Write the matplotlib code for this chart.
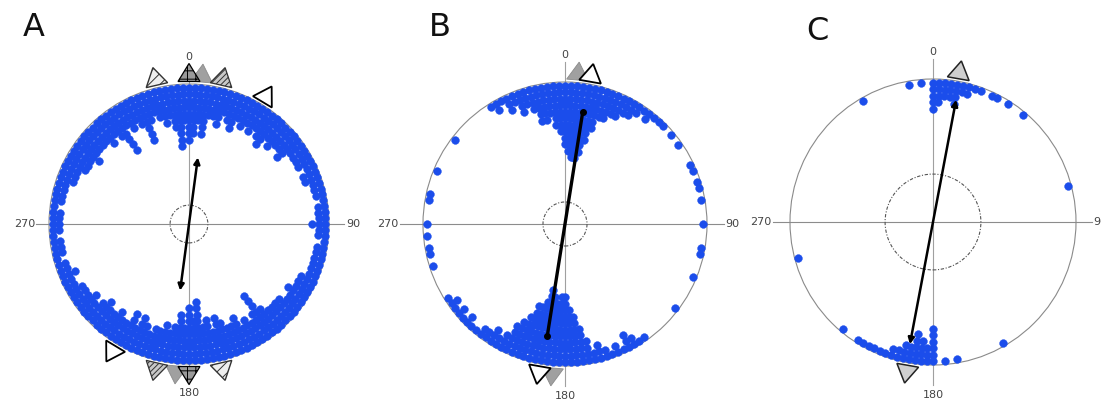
#!/usr/bin/env python3
# circular dot plots (axial data), three panels A/B/C
import numpy as np
import matplotlib
matplotlib.use('Agg')
import matplotlib.pyplot as plt
from matplotlib.patches import Polygon, Circle

plt.rcParams['hatch.linewidth'] = 0.7

BIN = 2.5  # degrees per bin, bins centred on 0, 2.5, 5 ... clockwise from north

# number of stacked dots in each bin, one row = 30 degrees
counts_A = [
    9, 8, 6, 8, 5, 5, 6, 4, 5, 6, 4, 5,      # 0 - 27.5
    4, 5, 4, 5, 6, 4, 5, 4, 4, 5, 3, 3,      # 30 - 57.5
    3, 3, 2, 3, 3, 2, 2, 2, 1, 2, 2, 2,      # 60 - 87.5
    3, 2, 2, 1, 2, 2, 2, 2, 2, 2, 3, 3,      # 90 - 117.5
    3, 4, 3, 3, 4, 4, 4, 4, 5, 8, 5, 4,      # 120 - 147.5
    5, 4, 6, 5, 5, 6, 7, 5, 7, 6, 10, 7,     # 150 - 177.5
    9, 6, 8, 6, 5, 6, 5, 5, 4, 5, 6, 4,      # 180 - 207.5
    6, 4, 4, 5, 4, 4, 5, 4, 3, 4, 3, 3,      # 210 - 237.5
    3, 2, 2, 3, 2, 2, 1, 2, 2, 2, 1, 2,      # 240 - 267.5
    2, 2, 2, 1, 2, 2, 2, 2, 3, 3, 3, 4,      # 270 - 297.5
    4, 4, 5, 4, 4, 4, 4, 5, 4, 5, 8, 4,      # 300 - 327.5
    5, 4, 5, 8, 5, 4, 5, 6, 5, 7, 10, 6,     # 330 - 357.5
]
counts_B = [
    10, 11, 12, 12, 11, 9, 7, 5, 5, 4, 4, 3,  # 0 - 27.5
    3, 2, 1, 2, 1, 1, 1, 0, 1, 0, 1, 0,      # 30 - 57.5
    0, 0, 1, 1, 0, 1, 1, 0, 1, 0, 0, 0,      # 60 - 87.5
    1, 0, 0, 0, 1, 1, 0, 0, 0, 1, 0, 0,      # 90 - 117.5
    0, 0, 0, 1, 0, 0, 0, 0, 0, 0, 1, 1,      # 120 - 147.5
    2, 3, 1, 2, 1, 2, 3, 2, 4, 6, 8, 9,      # 150 - 177.5
    11, 11, 10, 11, 12, 10, 9, 9, 7, 6, 5, 3,  # 180 - 207.5
    2, 3, 2, 2, 1, 1, 2, 1, 2, 1, 2, 1,      # 210 - 237.5
    0, 0, 0, 0, 0, 1, 0, 1, 1, 0, 1, 0,      # 240 - 267.5
    1, 0, 0, 0, 1, 1, 0, 0, 0, 1, 0, 0,      # 270 - 297.5
    0, 0, 0, 1, 0, 0, 0, 0, 0, 0, 0, 1,      # 300 - 327.5
    2, 1, 3, 2, 4, 3, 4, 6, 6, 5, 7, 8,      # 330 - 357.5
]
counts_C = [
    5, 4, 3, 3, 4, 2, 2, 1, 1, 0, 1, 1,      # 0 - 27.5
    0, 1, 0, 0, 1, 0, 0, 0, 0, 0, 0, 0,      # 30 - 57.5
    0, 0, 0, 0, 0, 0, 1, 0, 0, 0, 0, 0,      # 60 - 87.5
    0, 0, 0, 0, 0, 0, 0, 0, 0, 0, 0, 0,      # 90 - 117.5
    0, 0, 0, 0, 0, 0, 0, 0, 0, 0, 0, 0,      # 120 - 147.5
    1, 0, 0, 0, 0, 0, 0, 0, 1, 0, 1, 0,      # 150 - 177.5
    6, 3, 4, 5, 3, 3, 2, 2, 1, 1, 1, 1,      # 180 - 207.5
    1, 1, 0, 0, 1, 0, 0, 0, 0, 0, 0, 0,      # 210 - 237.5
    0, 0, 0, 0, 0, 0, 1, 0, 0, 0, 0, 0,      # 240 - 267.5
    0, 0, 0, 0, 0, 0, 0, 0, 0, 0, 0, 0,      # 270 - 297.5
    0, 0, 0, 0, 0, 0, 0, 0, 0, 0, 0, 0,      # 300 - 327.5
    1, 0, 0, 0, 0, 0, 0, 0, 1, 0, 1, 0,      # 330 - 357.5
]

# mean axis direction (deg), mean vector length (fraction of radius),
# radius of confidence circle
mean_dir = {'A': 7.6, 'B': 9.0, 'C': 10.7}
mean_len = {'A': 0.48, 'B': 0.80, 'C': 0.87}
conf_r = {'A': 0.135, 'B': 0.155, 'C': 0.335}

# group mean markers outside the circle: (angle, style)
marks_A = [(5, 'gray'), (347, 'light'), (0, 'check'), (13, 'hatch'), (31, 'white'),
           (185, 'gray'), (167, 'light'), (180, 'check'), (193, 'hatch'), (211, 'white')]
marks_B = [(5, 'gray'), (10, 'white'), (185, 'gray'), (190, 'white')]
marks_C = [(10, 'grayk'), (190, 'grayk')]

ax_labels = ['0', '90', '180', '270']

BLUE = '#1b4deb'
W, H = 1101, 399

# pixel layout of each panel: centre x, centre y, radius
layout = {'A': (189, 224, 140), 'B': (565, 224, 142), 'C': (933, 222, 143)}
# how far the horizontal axis reaches left / right (fraction of radius)
h_reach = {'A': (1.09, 1.11), 'B': (1.16, 1.12), 'C': (1.12, 1.11)}
letter_pos = {'A': (23, 12), 'B': (429, 12), 'C': (806, 16)}

styles = {
    'white': dict(facecolor='white', edgecolor='black', lw=1.3),
    'gray': dict(facecolor='#a0a0a0', edgecolor='#8a8a8a', lw=0.6),
    'grayk': dict(facecolor='#cfcfcf', edgecolor='#222222', lw=1.1),
    'check': dict(facecolor='#9a9a9a', edgecolor='black', lw=0.9, hatch='++'),
    'hatch': dict(facecolor='#c8c8c8', edgecolor='#333333', lw=0.9, hatch='//////'),
    'light': dict(facecolor='#eeeeee', edgecolor='#333333', lw=1.0, hatch='///'),
}


def polar_xy(ang, r):
    a = np.deg2rad(ang)
    return r * np.sin(a), r * np.cos(a)


def draw_panel(fig, name, counts, marks):
    cx, cy, R = layout[name]
    half = 180
    ax = fig.add_axes([(cx - half) / W, 0, 2 * half / W, 1])
    ax.set_xlim(-half / R, half / R)
    ax.set_ylim(-(H - cy) / R, cy / R)
    ax.axis('off')

    # axes cross and outline
    left, right = h_reach[name]
    ax.plot([-left, right], [0, 0], color='#8c8c8c', lw=0.8, zorder=1)
    ax.plot([0, 0], [-1.14, 1.14], color='#a0a0a0', lw=0.8, zorder=1)
    ax.add_patch(Circle((0, 0), 1, fill=False, ec='#8a8a8a', lw=0.8, zorder=1))
    ax.add_patch(Circle((0, 0), conf_r[name], fill=False, ec='#555555', lw=0.8,
                        ls=(0, (3, 1.5, 1, 1.5)), zorder=2))

    # stacked dots
    d = 6.5 / R
    xs, ys = [], []
    for i, n in enumerate(counts):
        for k in range(n):
            x, y = polar_xy(i * BIN, 1 - (k + 0.55) * d)
            xs.append(x)
            ys.append(y)
    ax.plot(xs, ys, 'o', ms=5.6, mfc=BLUE, mec=BLUE, mew=0.3, ls='none', zorder=3)

    # mean vector
    t = mean_dir[name]
    L = mean_len[name]
    x1, y1 = polar_xy(t, L)
    x0, y0 = polar_xy(t + 180, L)
    if name == 'B':
        ax.plot([x0, x1], [y0, y1], color='black', lw=2.4, zorder=5,
                marker='o', ms=4, solid_capstyle='round')
    else:
        ax.annotate('', xy=(x1, y1), xytext=(x0, y0), zorder=5,
                    arrowprops=dict(arrowstyle='<|-|>', color='black', lw=1.8,
                                    mutation_scale=9, shrinkA=0, shrinkB=0))

    # triangles outside the rim, apex outward
    for ang, st in marks:
        a = np.deg2rad(ang)
        u = np.array([np.sin(a), np.cos(a)])
        p = np.array([np.cos(a), -np.sin(a)])
        c = u * (1 + 2.5 / R)
        hb, h = 11.0 / R, 18.0 / R
        pts = [c + p * hb, c - p * hb, c + u * h]
        ax.add_patch(Polygon(pts, closed=True, zorder=4, **styles[st]))

    # direction labels
    fs = 8
    col = '#444444'
    ax.text(0, 1.19, ax_labels[0], ha='center', va='center', fontsize=fs, color=col)
    ax.text(0, -1.21, ax_labels[2], ha='center', va='center', fontsize=fs, color=col)
    ax.text(right + 0.01, 0, ax_labels[1], ha='left', va='center', fontsize=fs, color=col)
    ax.text(-left - 0.01, 0, ax_labels[3], ha='right', va='center', fontsize=fs, color=col)

    lx, ly = letter_pos[name]
    fig.text(lx / W, 1 - ly / H, name, ha='left', va='top', fontsize=23,
             color='#111111')


fig = plt.figure(figsize=(W / 100, H / 100), dpi=100)
draw_panel(fig, 'A', counts_A, marks_A)
draw_panel(fig, 'B', counts_B, marks_B)
draw_panel(fig, 'C', counts_C, marks_C)
fig.savefig('out.png', dpi=100)
